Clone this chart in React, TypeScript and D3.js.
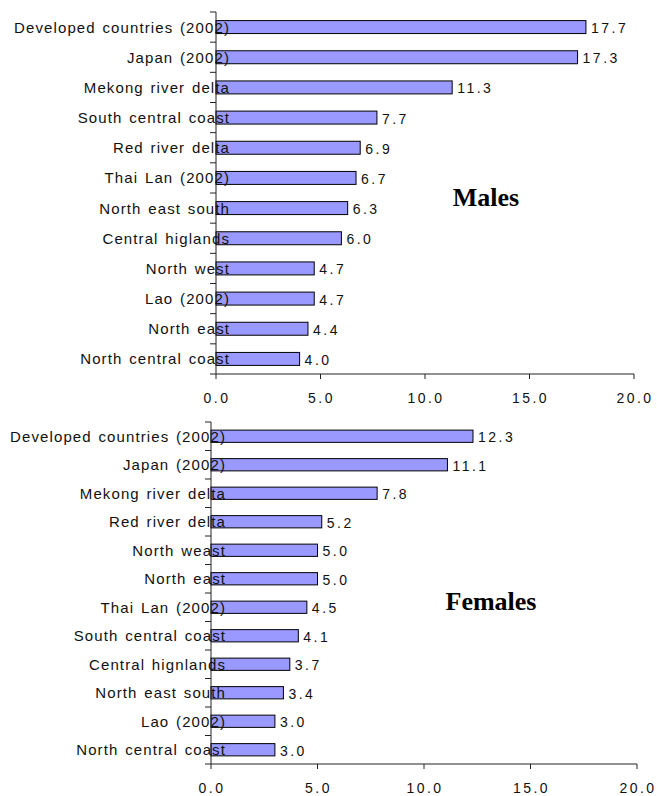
import React from "react";
import * as d3 from "d3";

const maleCategories = [
  "Developed countries (2002)",
  "Japan (2002)",
  "Mekong river delta",
  "South central coast",
  "Red river delta",
  "Thai Lan (2002)",
  "North east south",
  "Central higlands",
  "North west",
  "Lao (2002)",
  "North east",
  "North central coast",
];
const maleValues = [17.7, 17.3, 11.3, 7.7, 6.9, 6.7, 6.3, 6.0, 4.7, 4.7, 4.4, 4.0];

const femaleCategories = [
  "Developed countries (2002)",
  "Japan (2002)",
  "Mekong river delta",
  "Red river delta",
  "North weast",
  "North east",
  "Thai Lan (2002)",
  "South central coast",
  "Central hignlands",
  "North east south",
  "Lao (2002)",
  "North central coast",
];
const femaleValues = [12.3, 11.1, 7.8, 5.2, 5.0, 5.0, 4.5, 4.1, 3.7, 3.4, 3.0, 3.0];

const xTicks = [0, 5, 10, 15, 20];
const panelTitles = ["Males", "Females"];

type PanelProps = {
  categories: string[];
  values: number[];
  title: string;
  x0: number;
  x1: number;
  y0: number;
  y1: number;
  labelEnd: number;
  titleX: number;
  titleY: number;
};

const Panel = ({ categories, values, title, x0, x1, y0, y1, labelEnd, titleX, titleY }: PanelProps) => {
  const x = d3.scaleLinear().domain([0, 20]).range([x0, x1]);
  const y = d3.scaleBand<string>().domain(categories).range([y0, y1]).paddingInner(0.57).paddingOuter(0.285);
  const band = (y1 - y0) / categories.length;
  const boundaries = d3.range(categories.length + 1).map((i) => y0 + i * band);
  return (
    <g>
      {values.map((v, i) => (
        <rect
          key={"b" + i}
          x={x(0)}
          y={y(categories[i])!}
          width={x(v) - x(0)}
          height={y.bandwidth()}
          fill="#9999ff"
          stroke="#000"
          strokeWidth={1}
        />
      ))}
      {/* y axis */}
      <line x1={x0} x2={x0} y1={y0} y2={y1} stroke="#222" strokeWidth={1} />
      {boundaries.map((b, i) => (
        <line key={"yt" + i} x1={x0 - 6} x2={x0} y1={b} y2={b} stroke="#222" strokeWidth={1} />
      ))}
      {/* x axis */}
      <line x1={x0} x2={x1} y1={y1} y2={y1} stroke="#222" strokeWidth={1} />
      {xTicks.map((t) => (
        <g key={"xt" + t}>
          <line x1={x(t)} x2={x(t)} y1={y1} y2={y1 + 5} stroke="#222" strokeWidth={1} />
          <text
            x={x(t) + 1}
            y={y1 + 29}
            textAnchor="middle"
            fontFamily="'Liberation Sans', Arial, sans-serif"
            fontSize={14}
            letterSpacing={2.5}
            fill="#111"
          >
            {d3.format(".1f")(t)}
          </text>
        </g>
      ))}
      {categories.map((c, i) => (
        <text
          key={"c" + i}
          x={labelEnd}
          y={y(c)! + y.bandwidth() / 2 + 5.5}
          textAnchor="end"
          fontFamily="'Liberation Sans', Arial, sans-serif"
          fontSize={15}
          letterSpacing={1.1}
          wordSpacing={1.5}
          fill="#111"
        >
          {c}
        </text>
      ))}
      {values.map((v, i) => (
        <text
          key={"v" + i}
          x={x(v) + 5}
          y={y(categories[i])! + y.bandwidth() / 2 + 6}
          fontFamily="'Liberation Sans', Arial, sans-serif"
          fontSize={14}
          letterSpacing={2.5}
          fill="#111"
        >
          {d3.format(".1f")(v)}
        </text>
      ))}
      <text
        x={titleX}
        y={titleY}
        textAnchor="middle"
        fontFamily="'Liberation Serif', 'Times New Roman', serif"
        fontWeight="bold"
        fontSize={26}
        fill="#000"
      >
        {title}
      </text>
    </g>
  );
};

export default function App() {
  return (
    <svg
      width={657}
      height={796}
      style={{ position: "absolute", left: 0, top: 0, background: "#fff" }}
    >
      <Panel
        categories={maleCategories}
        values={maleValues}
        title={panelTitles[0]}
        x0={216}
        x1={634}
        y0={12}
        y1={374}
        labelEnd={230}
        titleX={486}
        titleY={206}
      />
      <Panel
        categories={femaleCategories}
        values={femaleValues}
        title={panelTitles[1]}
        x0={211}
        x1={637}
        y0={422}
        y1={764}
        labelEnd={226}
        titleX={491}
        titleY={610}
      />
    </svg>
  );
}
